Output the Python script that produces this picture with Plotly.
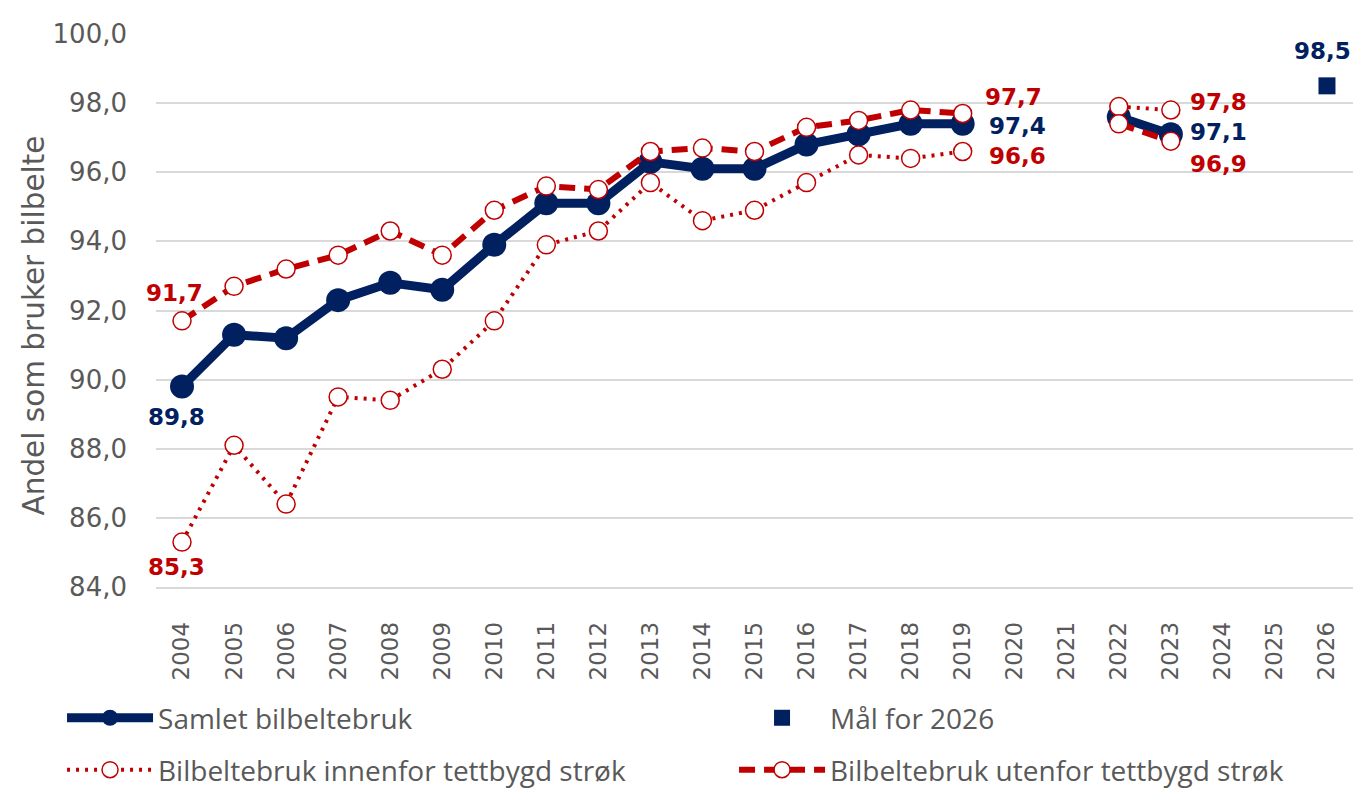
import plotly.graph_objects as go

# ---- data ----
years = ["2004", "2005", "2006", "2007", "2008", "2009", "2010", "2011", "2012",
         "2013", "2014", "2015", "2016", "2017", "2018", "2019", "2020", "2021",
         "2022", "2023", "2024", "2025", "2026"]
samlet = [89.8, 91.3, 91.2, 92.3, 92.8, 92.6, 93.9, 95.1, 95.1, 96.3, 96.1, 96.1,
          96.8, 97.1, 97.4, 97.4, None, None, 97.6, 97.1, None, None, None]
innenfor = [85.3, 88.1, 86.4, 89.5, 89.4, 90.3, 91.7, 93.9, 94.3, 95.7, 94.6, 94.9,
            95.7, 96.5, 96.4, 96.6, None, None, 97.9, 97.8, None, None, None]
utenfor = [91.7, 92.7, 93.2, 93.6, 94.3, 93.6, 94.9, 95.6, 95.5, 96.6, 96.7, 96.6,
           97.3, 97.5, 97.8, 97.7, None, None, 97.4, 96.9, None, None, None]
maal_years = ["2026"]
maal = [98.5]
y_title = "Andel som bruker bilbelte"

NAVY = "#002060"
RED = "#C00000"
GRAY = "#595959"
GRID = "#D9D9D9"
FONT = "DejaVu Sans"


def fmt(v):
    return f"{v:.1f}".replace(".", ",")


fig = go.Figure()
fig.add_trace(go.Scatter(
    x=years, y=samlet, name="Samlet bilbeltebruk", mode="lines+markers",
    line=dict(color=NAVY, width=9), marker=dict(size=24, color=NAVY),
    legend="legend", hoverinfo="skip"))
fig.add_trace(go.Scatter(
    x=maal_years, y=maal, name="Mål for 2026", mode="markers",
    marker=dict(symbol="square", size=17, color=NAVY),
    legend="legend", legendwidth=300, hoverinfo="skip"))
fig.add_trace(go.Scatter(
    x=years, y=innenfor, name="Bilbeltebruk innenfor tettbygd strøk",
    mode="lines+markers",
    line=dict(color=RED, width=4, dash="3px,6px"),
    marker=dict(size=18, color="white", line=dict(color=RED, width=1.5)),
    legend="legend2", hoverinfo="skip"))
fig.add_trace(go.Scatter(
    x=years, y=utenfor, name="Bilbeltebruk utenfor tettbygd strøk",
    mode="lines+markers",
    line=dict(color=RED, width=6, dash="16px,9px"),
    marker=dict(size=18, color="white", line=dict(color=RED, width=1.5)),
    legend="legend2", legendwidth=450, hoverinfo="skip"))

# ---- data labels ----
i04 = years.index("2004")
i19 = years.index("2019")
i23 = years.index("2023")
i26 = years.index(maal_years[0])

labels = [
    # (category index, value, color, xanchor, xshift, yshift)
    (i04, samlet[i04], NAVY, "center", -6, -30),
    (i04, utenfor[i04], RED, "center", -8, 28),
    (i04, innenfor[i04], RED, "center", -6, -25),
    (i19, samlet[i19], NAVY, "left", 24, -2),
    (i19, utenfor[i19], RED, "left", 20, 16),
    (i19, innenfor[i19], RED, "left", 24, -4),
    (i23, innenfor[i23], RED, "left", 17, 8),
    (i23, samlet[i23], NAVY, "left", 17, 2),
    (i23, utenfor[i23], RED, "left", 17, -23),
    (i26, maal[0], NAVY, "center", -4, 35),
]
for xi, y, c, xa, xs, ys in labels:
    fig.add_annotation(x=xi, y=y, xref="x", yref="y",
                       text="<b>" + fmt(y) + "</b>",
                       showarrow=False,
                       xanchor=xa, yanchor="middle", xshift=xs, yshift=ys,
                       font=dict(family=FONT, size=23, color=c))

# y-axis title as rotated annotation
fig.add_annotation(x=0, y=0.5, xref="paper", yref="paper", text=y_title,
                   showarrow=False, textangle=-90, xanchor="center",
                   yanchor="middle", xshift=-123, yshift=-15,
                   font=dict(family=FONT, size=29.5, color=GRAY))

fig.update_layout(
    width=1356, height=788,
    margin=dict(l=156, r=3, t=34, b=201, autoexpand=False),
    plot_bgcolor="white", paper_bgcolor="white",
    separators=", ",
    xaxis=dict(type="category", categoryorder="array", categoryarray=years,
               range=[-0.5, 22.5], tickangle=-90, automargin=False,
               tickfont=dict(family=FONT, size=23, color=GRAY),
               showgrid=False, showline=True, linecolor=GRID, linewidth=1.5,
               ticks="", ticklabelstandoff=24, fixedrange=True),
    yaxis=dict(range=[84, 100], tick0=84, dtick=2, tickformat=".1f",
               automargin=False,
               tickfont=dict(family=FONT, size=26, color=GRAY),
               gridcolor=GRID, gridwidth=1.5, zeroline=False, showline=False,
               ticks="", ticklabelstandoff=28, fixedrange=True),
    legend=dict(orientation="h", x=-0.0785, xanchor="left", y=-0.237,
                yanchor="middle", itemwidth=86, entrywidth=571,
                font=dict(family="Open Sans", size=28, color=GRAY),
                bgcolor="rgba(0,0,0,0)"),
    legend2=dict(orientation="h", x=-0.0785, xanchor="left", y=-0.331,
                 yanchor="middle", itemwidth=86, entrywidth=571,
                 font=dict(family="Open Sans", size=28, color=GRAY),
                 bgcolor="rgba(0,0,0,0)"),
    showlegend=True,
)

fig.write_html("out.html", include_plotlyjs=True,
               config={"displayModeBar": False},
               post_script="document.body.style.margin='0';document.body.style.overflow='hidden';")
